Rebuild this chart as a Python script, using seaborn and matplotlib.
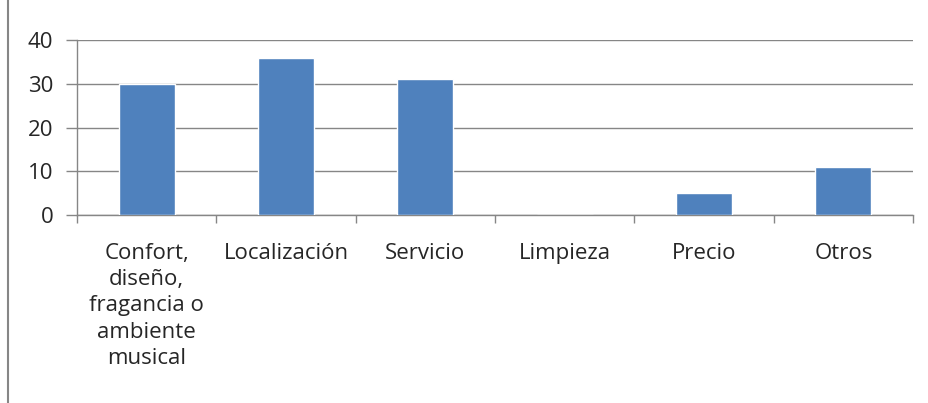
import matplotlib
matplotlib.use("Agg")
from matplotlib import pyplot as plt
from matplotlib.lines import Line2D
import seaborn as sns
import pandas as pd

categories = ["Confort,\ndiseño,\nfragancia o\nambiente\nmusical", "Localización", "Servicio",
              "Limpieza", "Precio", "Otros"]
values = [30, 36, 31, 0, 5, 11]
yticks = [0, 10, 20, 30, 40]

df = pd.DataFrame({"cat": categories, "val": values})

sns.set_style("white")
plt.rcParams["font.family"] = ["Open Sans", "DejaVu Sans"]

grid_col = "#868686"
fig = plt.figure(figsize=(9.29, 4.03), dpi=100)
ax = fig.add_axes([77 / 929, 1 - 215 / 403, (913 - 77) / 929, (215 - 40) / 403])

sns.barplot(data=df, x="cat", y="val", color="#4F81BD", saturation=1, width=0.4, ax=ax, zorder=3)

ax.set_ylim(0, 40)
ax.set_xlim(-0.5, 5.5)
ax.set_yticks(yticks)
ax.set_yticklabels([str(t) for t in yticks], fontsize=16)
ax.grid(axis="y", color=grid_col, linewidth=1, zorder=0)
ax.set_axisbelow(True)
ax.set_xlabel("")
ax.set_ylabel("")
for s in ["top", "right"]:
    ax.spines[s].set_visible(False)
for s in ["left", "bottom"]:
    ax.spines[s].set_color(grid_col)
    ax.spines[s].set_linewidth(1)

ax.tick_params(axis="y", length=8, color=grid_col, width=1, pad=9, left=True)
ax.tick_params(axis="x", which="major", length=0, pad=20, labelsize=16)
ax.set_xticks([i - 0.5 for i in range(7)], minor=True)
ax.tick_params(axis="x", which="minor", length=6, color=grid_col, width=1, bottom=True)
for lab in ax.get_xticklabels():
    lab.set_verticalalignment("top")
    lab.set_linespacing(1.33)
    lab.set_multialignment("center")

# chart frame edge at the left
fig.add_artist(Line2D([8 / 929, 8 / 929], [0, 1], transform=fig.transFigure, color=grid_col, linewidth=1.5))

fig.savefig("out.png", dpi=100)
